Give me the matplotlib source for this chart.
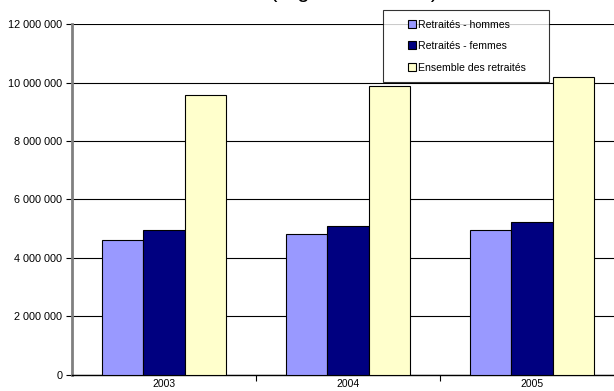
import numpy as np
import matplotlib
matplotlib.use("Agg")
import matplotlib.pyplot as plt
from matplotlib.patches import Rectangle
from matplotlib.container import BarContainer
from matplotlib.legend_handler import HandlerPatch, update_from_first_child
from matplotlib.ticker import FuncFormatter, FixedLocator

plt.rcParams['font.family'] = ['Liberation Sans', 'DejaVu Sans']

# nombre de retraites par annee
annees = ['2003', '2004', '2005']
hommes = [4615000, 4810000, 4960000]
femmes = [4960000, 5090000, 5230000]
ensemble = [9575000, 9900000, 10190000]

series = ['Retraités - hommes', 'Retraités - femmes', 'Ensemble des retraités']
couleurs = ['#9999ff', '#000080', '#ffffcc']

fig = plt.figure(figsize=(6.14, 3.91), dpi=100)
ax = fig.add_axes([72 / 614, 0.0417, 552 / 614, 0.8962])

x = np.arange(len(annees))
w = 0.223
for i, (vals, nom, c) in enumerate(zip([hommes, femmes, ensemble], series, couleurs)):
    ax.bar(x + (i - 1) * w, vals, w, color=c, edgecolor='black', linewidth=0.8,
           label=nom, zorder=3)

ax.set_xlim(-0.5, 2.5)
ax.set_ylim(0, 12000000)
ax.set_yticks(np.arange(0, 12000001, 2000000))
ax.yaxis.set_major_formatter(FuncFormatter(lambda v, p: f"{int(v):,}".replace(",", " ")))
ax.yaxis.grid(True, color='black', linewidth=0.8, zorder=0)

ax.set_xticks(x)
ax.set_xticklabels(annees)
ax.xaxis.set_minor_locator(FixedLocator([0.5, 1.5]))
ax.tick_params(axis='x', which='major', length=0, pad=3, labelsize=7.5)
ax.tick_params(axis='x', which='minor', length=4, width=0.8, direction='out')
ax.tick_params(axis='y', length=4, width=0.8, pad=3, labelsize=7.8)

for s in ['top', 'right']:
    ax.spines[s].set_visible(False)
ax.spines['left'].set_color('#808080')
ax.spines['left'].set_linewidth(2)
ax.spines['bottom'].set_color('black')
ax.spines['bottom'].set_linewidth(1)


# petit carre colle au texte dans la legende
def petit_carre(legend, orig_handle, xdescent, ydescent, width, height, fontsize):
    s = 0.77 * fontsize
    return Rectangle((width - s - xdescent, (height - s) / 2 - ydescent), s, s)


leg = fig.legend(loc='upper left', mode='expand',
                 bbox_to_anchor=(383 / 614, 1 - 79 / 391, 166 / 614, 69 / 391),
                 borderaxespad=0, fontsize=7.6, frameon=True, fancybox=False,
                 edgecolor='black', handlelength=2.2, handleheight=0.7,
                 handletextpad=0.2, labelspacing=1.1, borderpad=0.9,
                 handler_map={BarContainer: HandlerPatch(patch_func=petit_carre,
                                                         update_func=update_from_first_child)})
leg.get_frame().set_linewidth(0.8)
leg.set_zorder(10)

# titre (seule la fin de la ligne reste dans le cadre)
fig.text(357 / 614, 1 + 3 / 391, '(régime de base),', ha='center',
         va='baseline', fontsize=16)

fig.savefig('out.png', dpi=100)
